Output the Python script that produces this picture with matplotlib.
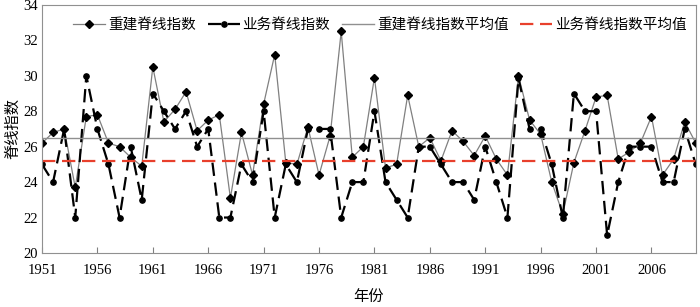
import matplotlib
matplotlib.use("Agg")
import matplotlib.pyplot as plt

plt.rcParams['font.family'] = ['Liberation Serif', 'Noto Sans CJK SC']

# 年份
years = list(range(1951, 2011))

# 重建脊线指数
rebuilt = [26.2, 26.8, 27.0, 23.7, 27.7, 27.8, 26.2, 26.0, 25.4, 24.9,
           30.5, 27.4, 28.1, 29.1, 26.9, 27.5, 27.8, 23.1, 26.8, 24.4,
           28.4, 31.2, 25.1, 25.0, 27.1, 24.4, 26.6, 32.5, 25.4, 26.0,
           29.9, 24.8, 25.0, 28.9, 26.0, 26.5, 25.2, 26.9, 26.3, 25.5,
           26.6, 25.3, 24.4, 30.0, 27.5, 26.7, 24.0, 22.2, 25.1, 26.9,
           28.8, 28.9, 25.3, 25.7, 26.2, 27.7, 24.4, 25.3, 27.4, 26.2]

# 业务脊线指数
business = [25, 24, 27, 22, 30, 27, 25, 22, 26, 23,
            29, 28, 27, 28, 26, 27, 22, 22, 25, 24,
            28, 22, 25, 24, 27, 27, 27, 22, 24, 24,
            28, 24, 23, 22, 26, 26, 25, 24, 24, 23,
            26, 24, 22, 29.85, 27, 27, 25, 22, 29, 28,
            28, 21, 24, 26, 26, 26, 24, 24, 27, 25]

rebuilt_mean = 26.5
business_mean = 25.2

fig, ax = plt.subplots(figsize=(7, 3.07), dpi=100)
fig.subplots_adjust(left=0.06, right=0.994, top=0.984, bottom=0.176)

ax.plot(years, rebuilt, color='#808080', lw=0.9, marker='D', ms=4.5,
        mfc='black', mec='black', label='重建脊线指数')
ax.plot(years, business, color='black', lw=1.6, ls=(0, (6, 3)), marker='o', ms=3.8,
        mfc='black', mec='black', label='业务脊线指数')
ax.axhline(rebuilt_mean, color='#909090', lw=1.0, label='重建脊线指数平均值')
ax.axhline(business_mean, color='#e8402c', lw=1.6, ls=(0, (6, 3)),
           label='业务脊线指数平均值')

ax.set_xlim(1951, 2010)
ax.set_ylim(20, 34)
ax.set_yticks(range(20, 35, 2))
ax.set_xticks(range(1951, 2010, 5))
ax.tick_params(axis='x', direction='in', length=4, color='#808080', labelsize=10.5, pad=8)
ax.tick_params(axis='y', length=0, labelsize=10.5, pad=3)
for s in ax.spines.values():
    s.set_color('#909090')

ax.set_xlabel('年份', fontsize=11, labelpad=9)
ax.set_ylabel('脊线指数', fontsize=11, labelpad=2)

ax.legend(loc='upper center', ncol=4, frameon=False, fontsize=10.5,
          handlelength=2.2, columnspacing=0.8, handletextpad=0.2,
          bbox_to_anchor=(0.517, 1.0))

fig.savefig('out.png', dpi=100)
